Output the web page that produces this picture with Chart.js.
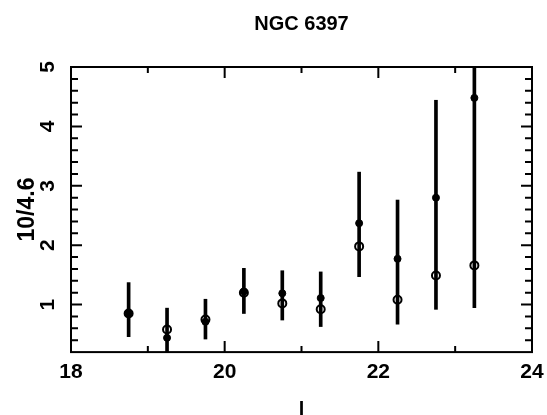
<!DOCTYPE html>
<html>
<head>
<meta charset="utf-8">
<script src="https://cdn.jsdelivr.net/npm/chart.js"></script>
<style>
html,body{margin:0;padding:0;background:#fff;}
</style>
</head>
<body>
<canvas id="myChart" width="547" height="415"></canvas>
<script>
// magnitude bins (x) and the two ratio estimates per bin
var magBins = [18.75, 19.25, 19.75, 20.25, 20.75, 21.25, 21.75, 22.25, 22.75, 23.25];
var openVals = [0.85, 0.58, 0.75, 1.20, 1.02, 0.92, 1.98, 1.08, 1.49, 1.66];
var filledVals = [0.85, 0.44, 0.71, 1.22, 1.19, 1.11, 2.37, 1.77, 2.80, 4.48];
// error bar ends
var errLow = [0.46, 0.20, 0.42, 0.85, 0.74, 0.63, 1.47, 0.67, 0.92, 0.95];
var errHigh = [1.37, 0.94, 1.09, 1.61, 1.57, 1.55, 3.23, 2.76, 4.44, 5.00];
// labelled ticks
var xTicks = [18, 20, 22, 24];
var yTicks = [1, 2, 3, 4, 5];

var fontFam = '"Liberation Sans", Arial, sans-serif';

// box frame + inward tick marks on all four sides
var frameTicks = {
    id: 'frameTicks',
    afterDatasetsDraw: function(chart){
        var ctx = chart.ctx, a = chart.chartArea;
        var xs = chart.scales.x, ys = chart.scales.y;
        ctx.save();
        ctx.strokeStyle = '#000';
        ctx.lineWidth = 2;
        ctx.strokeRect(a.left, a.top, a.right - a.left, a.bottom - a.top);
        ctx.beginPath();
        for (var v = xs.min + 1; v < xs.max; v++) {
            var px = xs.getPixelForValue(v);
            var len = xTicks.indexOf(v) >= 0 ? 11 : 6;
            ctx.moveTo(px, a.bottom); ctx.lineTo(px, a.bottom - len);
            ctx.moveTo(px, a.top); ctx.lineTo(px, a.top + len);
        }
        for (var i = 2; i < 25; i++) {
            var py = ys.getPixelForValue(i * 0.2);
            var l2 = (i % 5 === 0) ? 11 : 7;
            ctx.moveTo(a.left, py); ctx.lineTo(a.left + l2, py);
            ctx.moveTo(a.right, py); ctx.lineTo(a.right - l2, py);
        }
        ctx.stroke();
        ctx.restore();
    }
};

var ctx = document.getElementById('myChart').getContext('2d');
var myChart = new Chart(ctx, {
    type: 'scatter',
    data: {
        datasets: [
            {
                label: 'filled',
                data: magBins.map(function(x, i){ return {x: x, y: filledVals[i]}; }),
                pointRadius: 3.5,
                pointBackgroundColor: '#000',
                pointBorderColor: '#000',
                pointBorderWidth: 1
            },
            {
                label: 'open',
                data: magBins.map(function(x, i){ return {x: x, y: openVals[i]}; }),
                pointRadius: 4,
                pointBackgroundColor: 'rgba(255,255,255,0)',
                pointBorderColor: '#000',
                pointBorderWidth: 2
            },
            {
                type: 'bar',
                label: 'err',
                data: magBins.map(function(x, i){ return {x: x, y: [errLow[i], errHigh[i]]}; }),
                backgroundColor: '#000',
                borderWidth: 0,
                barThickness: 3
            }
        ]
    },
    options: {
        responsive: false,
        animation: false,
        layout: { padding: { left: 12.5, right: 15, top: 0, bottom: 0 } },
        plugins: {
            legend: { display: false },
            tooltip: { enabled: false },
            title: {
                display: true,
                fullSize: false,
                text: 'NGC 6397',
                color: '#000',
                font: { family: fontFam, size: 20, weight: 'bold', lineHeight: 1.2 },
                padding: { top: 12, bottom: 31 }
            }
        },
        scales: {
            x: {
                type: 'linear',
                position: 'bottom',
                min: 18, max: 24,
                offset: false,
                grid: { display: false, drawTicks: false },
                border: { display: false },
                afterBuildTicks: function(axis){ axis.ticks = xTicks.map(function(v){ return {value: v}; }); },
                ticks: { color: '#000', padding: 0, maxRotation: 0, font: { family: fontFam, size: 21, weight: 'bold', lineHeight: 1.9 } },
                title: { display: true, text: 'l', color: '#000', font: { family: fontFam, size: 20, weight: 'bold', lineHeight: 1.2 }, padding: { top: 6, bottom: -7 } }
            },
            y: {
                type: 'linear',
                min: 0.2, max: 5,
                grid: { display: false, drawTicks: false },
                border: { display: false },
                afterBuildTicks: function(axis){ axis.ticks = yTicks.map(function(v){ return {value: v}; }); },
                ticks: { color: '#000', padding: 17.2, minRotation: 90, maxRotation: 90, crossAlign: 'center', font: { family: fontFam, size: 21, weight: 'bold', lineHeight: 0.8 } },
                title: { display: true, text: '10/4.6', color: '#000', font: { family: fontFam, size: 23, weight: 'bold', lineHeight: 1 }, padding: { top: 4, bottom: -19.7 } }
            }
        }
    },
    plugins: [frameTicks]
});
</script>
</body>
</html>
